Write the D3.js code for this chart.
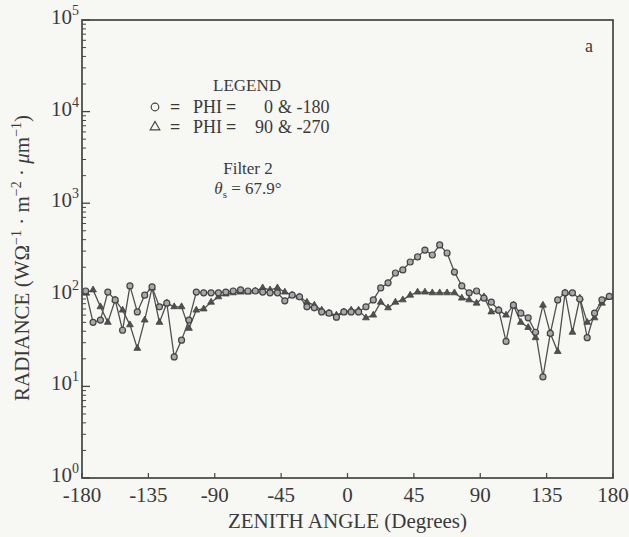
<!DOCTYPE html>
<html>
<head>
<meta charset="utf-8">
<script src="https://cdn.jsdelivr.net/npm/d3@7"></script>
<style>
  html, body { margin: 0; padding: 0; background: #f7f7f4; }
  svg { display: block; }
  text { font-family: "Liberation Serif", "DejaVu Serif", serif; fill: #3a3a3a; }
</style>
</head>
<body>
<svg id="chart" width="629" height="537"></svg>
<script>
// ---- data ----
const angles = [-177.5, -172.5, -167.5, -162.5, -157.5, -152.5, -147.5, -142.5, -137.5, -132.5,
  -127.5, -122.5, -117.5, -112.5, -107.5, -102.5, -97.5, -92.5, -87.5, -82.5,
  -77.5, -72.5, -67.5, -62.5, -57.5, -52.5, -47.5, -42.5, -37.5, -32.5,
  -27.5, -22.5, -17.5, -12.5, -7.5, -2.5, 2.5, 7.5, 12.5, 17.5,
  22.5, 27.5, 32.5, 37.5, 42.5, 47.5, 52.5, 57.5, 62.5, 67.5,
  72.5, 77.5, 82.5, 87.5, 92.5, 97.5, 102.5, 107.5, 112.5, 117.5,
  122.5, 127.5, 132.5, 137.5, 142.5, 147.5, 152.5, 157.5, 162.5, 167.5,
  172.5, 177.5];

// PHI = 0 & -180 (circles)
const phi0 = [110, 50, 53, 107, 88, 41, 125, 65, 99, 122,
  74, 81, 21, 32, 53, 107, 105, 105, 105, 107,
  110, 113, 110, 110, 107, 105, 105, 86, 99, 95,
  74, 72, 65, 63, 57, 65, 65, 65, 74, 88,
  119, 135, 173, 187, 228, 259, 308, 272, 350, 286,
  177, 125, 105, 110, 92, 83, 68, 31, 77, 63,
  56, 39, 12.7, 38, 88, 105, 105, 90, 34, 63,
  88, 96];

// PHI = 90 & -270 (triangles)
const phi90 = [105, 113, 74, 50, 88, 68, 47, 26, 53, 119,
  50, 81, 74, 74, 43, 68, 70, 83, 95, 102,
  105, 107, 107, 110, 119, 113, 119, 107, 99, 95,
  83, 77, 68, 63, 60, 65, 68, 68, 56, 60,
  83, 72, 83, 88, 99, 107, 107, 105, 105, 105,
  105, 92, 88, 81, 95, 65, 68, 60, 77, 50,
  44, 34, 77, 38, 24, 105, 39, 92, 50, 56,
  81, 95];

const xTicks = [-180, -135, -90, -45, 0, 45, 90, 135, 180];
const yExps = [0, 1, 2, 3, 4, 5];

// ---- layout ----
const svg = d3.select("#chart");
const L = 82, R = 613, T = 20, B = 478;
const ink = "#444";

const x = d3.scaleLinear().domain([-180, 180]).range([L, R]);
const y = d3.scaleLog().domain([1, 1e5]).range([B, T]);

// minor/major y ticks (inside)
const minor = [];
for (let e = 0; e < 5; e++) for (let m = 2; m <= 9; m++) minor.push(m * Math.pow(10, e));
svg.append("g").selectAll("line").data(minor).join("line")
  .attr("x1", L).attr("x2", L + 4)
  .attr("y1", d => y(d)).attr("y2", d => y(d))
  .attr("stroke", ink).attr("stroke-width", 1);
svg.append("g").selectAll("line").data(yExps).join("line")
  .attr("x1", L).attr("x2", L + 8)
  .attr("y1", d => y(Math.pow(10, d))).attr("y2", d => y(Math.pow(10, d)))
  .attr("stroke", ink).attr("stroke-width", 1.3);

// x ticks (inside)
svg.append("g").selectAll("line").data(xTicks).join("line")
  .attr("x1", d => x(d)).attr("x2", d => x(d))
  .attr("y1", B).attr("y2", B - 5)
  .attr("stroke", ink).attr("stroke-width", 1.2);

// frame
svg.append("rect").attr("x", L).attr("y", T).attr("width", R - L).attr("height", B - T)
  .attr("fill", "none").attr("stroke", ink).attr("stroke-width", 1.7);

// y tick labels
const yl = svg.append("g").selectAll("text").data(yExps).join("text")
  .attr("x", L - 3).attr("y", d => y(Math.pow(10, d)) + 4)
  .attr("text-anchor", "end").attr("font-size", 21);
yl.append("tspan").text("10");
yl.append("tspan").attr("dy", -9).attr("font-size", 14).text(d => d);

// x tick labels
svg.append("g").selectAll("text").data(xTicks).join("text")
  .attr("x", d => x(d)).attr("y", 502)
  .attr("text-anchor", "middle").attr("font-size", 21)
  .text(d => d);

// axis titles
svg.append("text").attr("x", (L + R) / 2).attr("y", 528)
  .attr("text-anchor", "middle").attr("font-size", 21)
  .text("ZENITH ANGLE (Degrees)");

const yt = svg.append("text")
  .attr("transform", "translate(29,258) rotate(-90)")
  .attr("text-anchor", "middle").attr("font-size", 21);
yt.append("tspan").text("RADIANCE (WΩ");
yt.append("tspan").attr("dy", -8).attr("font-size", 14).text("−1");
yt.append("tspan").attr("dy", 8).text(" · m");
yt.append("tspan").attr("dy", -8).attr("font-size", 14).text("−2");
yt.append("tspan").attr("dy", 8).text(" · ");
yt.append("tspan").attr("font-style", "italic").text("μ");
yt.append("tspan").text("m");
yt.append("tspan").attr("dy", -8).attr("font-size", 14).text("−1");
yt.append("tspan").attr("dy", 8).text(")");

// ---- series ----
const line = d3.line().x(d => x(d[0])).y(d => y(d[1]));
const s0 = angles.map((a, i) => [a, phi0[i]]);
const s90 = angles.map((a, i) => [a, phi90[i]]);

svg.append("path").datum(s90).attr("d", line)
  .attr("fill", "none").attr("stroke", "#505050").attr("stroke-width", 1.3);
svg.append("path").datum(s0).attr("d", line)
  .attr("fill", "none").attr("stroke", "#505050").attr("stroke-width", 1.3);

const tri = d3.symbol().type(d3.symbolTriangle).size(20);
svg.append("g").selectAll("path").data(s90).join("path")
  .attr("d", tri)
  .attr("transform", d => `translate(${x(d[0])},${y(d[1])})`)
  .attr("fill", "#505050").attr("stroke", "#444").attr("stroke-width", 0.8);

svg.append("g").selectAll("circle").data(s0).join("circle")
  .attr("cx", d => x(d[0])).attr("cy", d => y(d[1])).attr("r", 3)
  .attr("fill", "#a8a8a8").attr("stroke", "#444").attr("stroke-width", 1.2);

// ---- legend & annotations ----
svg.append("text").attr("x", 247).attr("y", 91).attr("text-anchor", "middle")
  .attr("font-size", 17).text("LEGEND");

svg.append("circle").attr("cx", 155).attr("cy", 107).attr("r", 3.8)
  .attr("fill", "none").attr("stroke", ink).attr("stroke-width", 1.2);
svg.append("path").attr("d", d3.symbol().type(d3.symbolTriangle).size(40)())
  .attr("transform", "translate(155,127)")
  .attr("fill", "none").attr("stroke", ink).attr("stroke-width", 1.2);

const legRows = [
  { y: 113, num: "0", rest: "& -180" },
  { y: 133, num: "90", rest: "& -270" }
];
legRows.forEach(r => {
  svg.append("text").attr("x", 170).attr("y", r.y).attr("font-size", 18).attr("font-weight", "bold").text("=");
  svg.append("text").attr("x", 193).attr("y", r.y).attr("font-size", 18).text("PHI");
  svg.append("text").attr("x", 226).attr("y", r.y).attr("font-size", 18).attr("font-weight", "bold").text("=");
  svg.append("text").attr("x", 273).attr("y", r.y).attr("text-anchor", "end").attr("font-size", 18).text(r.num);
  svg.append("text").attr("x", 278).attr("y", r.y).attr("font-size", 18).text(r.rest);
});

svg.append("text").attr("x", 248).attr("y", 174).attr("text-anchor", "middle")
  .attr("font-size", 17).text("Filter 2");
const th = svg.append("text").attr("x", 248).attr("y", 194).attr("text-anchor", "middle")
  .attr("font-size", 17);
th.append("tspan").attr("font-style", "italic").text("θ");
th.append("tspan").attr("dy", 4).attr("font-size", 11).text("s");
th.append("tspan").attr("dy", -4).text(" = 67.9°");

svg.append("text").attr("x", 589).attr("y", 52).attr("text-anchor", "middle")
  .attr("font-size", 18).text("a");
</script>
</body>
</html>
